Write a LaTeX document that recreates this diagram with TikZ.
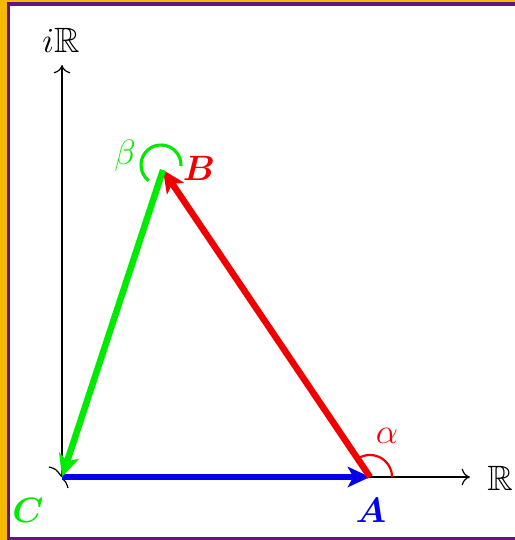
\documentclass[tikz,border=0pt]{standalone}
\usepackage{amssymb,bm}
\usetikzlibrary{arrows.meta}
\definecolor{frameorange}{RGB}{245,185,0}
\definecolor{framepurple}{RGB}{100,20,130}
\definecolor{vgreen}{RGB}{0,235,0}
\definecolor{vred}{RGB}{240,0,0}
\definecolor{vblue}{RGB}{0,0,240}
\begin{document}
\begin{tikzpicture}[x=0.54pt,y=-0.54pt,
  font=\LARGE,
  vec/.style={line width=3.5pt, -{Stealth[length=12pt,width=11pt,inset=3pt]}},
  axis/.style={line width=0.65pt, -{To[length=4.5pt,width=9pt]}},
  lbl/.style={inner sep=0pt, scale=1.1}]
\fill[frameorange] (0,0) rectangle (515,540);
\fill[framepurple] (7,2) rectangle (515,540);
\fill[white] (10,6) rectangle (515,537);
\useasboundingbox (0,0) rectangle (515,540);
\coordinate (C) at (62,477);
\coordinate (A) at (370,477);
\coordinate (B) at (163,170);
\coordinate (yend) at (62,65);
\coordinate (xend) at (470,477);
\coordinate (betac) at (161,165);
\draw[axis] (C) -- (yend);
\draw[axis] (C) -- (xend);
\draw[line width=0.65pt] (49,467) .. controls (56,469) .. (61,476);
\draw[line width=0.65pt] (63,479) .. controls (66,482) .. (68,488);
\draw[vred, line width=1.2pt] ([xshift=11.9pt]A) arc[start angle=0,end angle=124,radius=11.9pt];
\draw[vgreen, line width=1.7pt] ([shift={(-3:10.8pt)}]betac) arc[start angle=-3,end angle=232,radius=10.8pt];
\draw[vec, vblue] (C) -- (A);
\draw[vec, vred] (A) -- (B);
\draw[vec, vgreen] (B) -- (C);
\node[lbl] (iR) at (61,40) {$i\mathbb{R}$};
\node[lbl] (R) at (500,478) {$\mathbb{R}$};
\node[lbl, vgreen] (Clbl) at (28,510) {$\bm{C}$};
\node[lbl, vblue] (Albl) at (371,510) {$\bm{A}$};
\node[lbl, vred] (Blbl) at (199,168) {$\bm{B}$};
\node[lbl, vred] (alpha) at (387,436) {$\alpha$};
\node[lbl, vgreen] (beta) at (125,156) {$\beta$};
\end{tikzpicture}
\end{document}
